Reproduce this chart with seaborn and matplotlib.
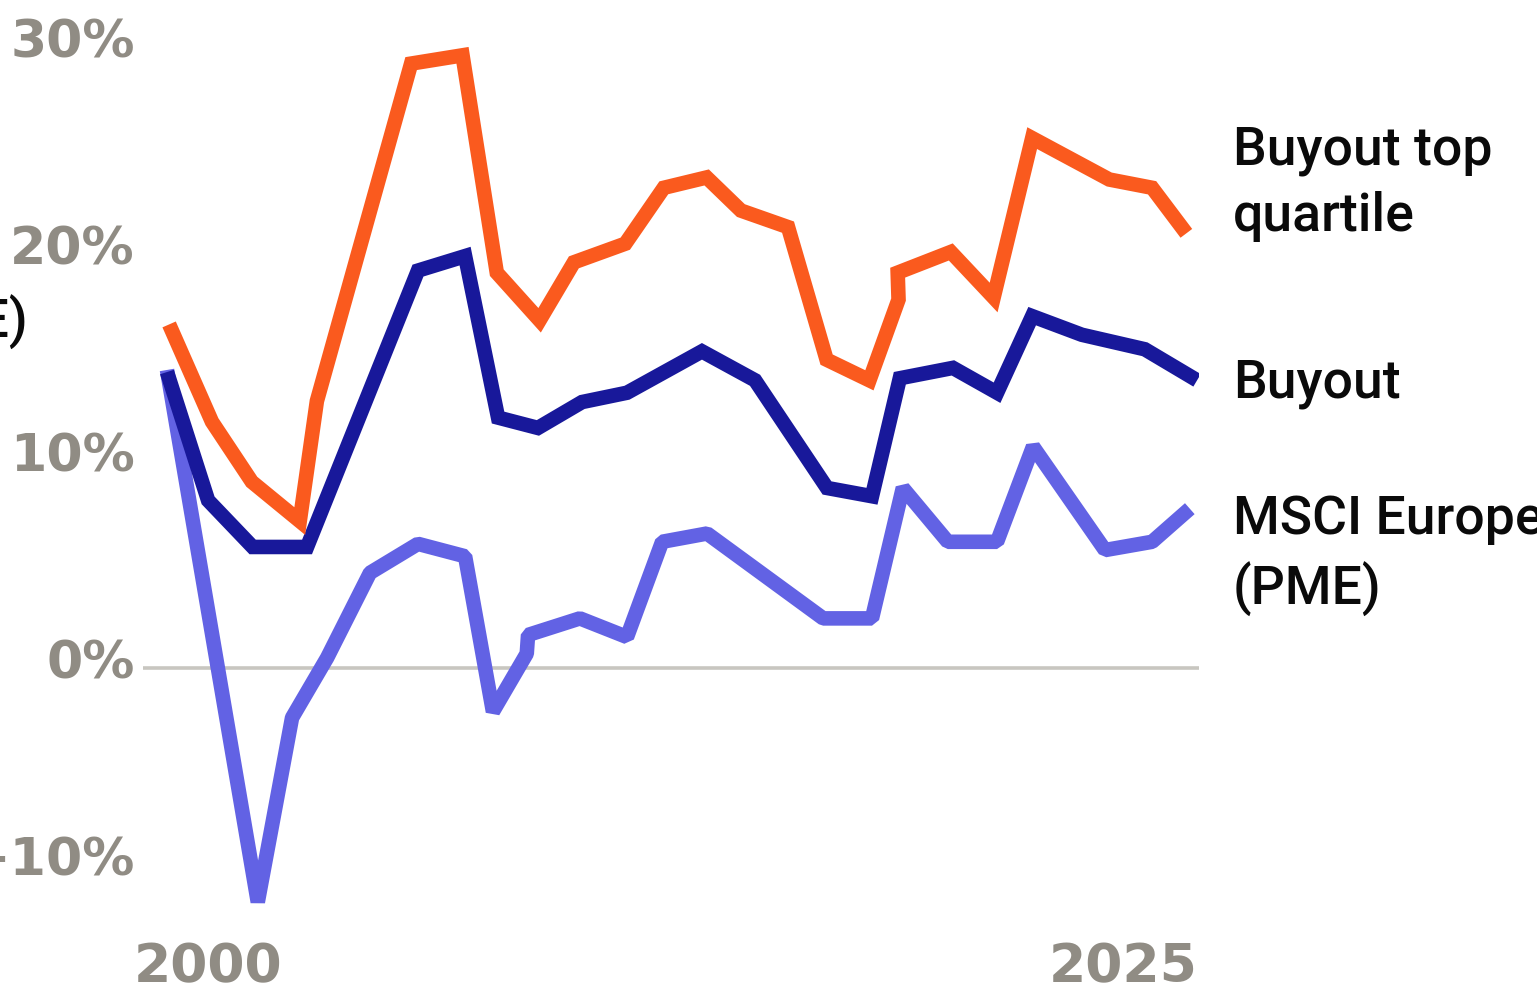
import numpy as np
import pandas as pd
import matplotlib
matplotlib.use("Agg")
import matplotlib.pyplot as plt
import matplotlib.transforms as mtransforms
import seaborn as sns

# ---------------- data ----------------
SERIES = ["MSCI Europe (PME)", "Buyout", "Buyout top quartile"]

top_years = [2000.05, 2001.05, 2001.98, 2003.1, 2003.5, 2005.7, 2006.9, 2007.7,
             2008.7, 2009.5, 2010.7, 2011.6, 2012.6, 2013.4, 2014.5, 2015.4,
             2016.4, 2017.08, 2017.06, 2018.3, 2019.3, 2020.2, 2022.0, 2023.0,
             2023.8]
top_values = [16.6, 11.9, 9.0, 7.1, 12.9, 29.2, 29.6, 19.1,
              16.8, 19.6, 20.5, 23.2, 23.7, 22.1, 21.3, 14.9,
              13.9, 17.8, 19.1, 20.1, 17.9, 25.6, 23.6, 23.2,
              21.0]

buyout_years = [2000.0, 2000.96, 2002.0, 2003.27, 2005.86, 2006.96, 2007.73,
                2008.66, 2009.69, 2010.74, 2012.49, 2013.73, 2015.41, 2016.46,
                2017.11, 2018.35, 2019.38, 2020.2, 2021.36, 2022.83, 2024.05]
buyout_values = [14.3, 8.1, 5.85, 5.85, 19.2, 19.9, 12.1,
                 11.6, 12.85, 13.3, 15.3, 13.9, 8.7, 8.3,
                 14.0, 14.5, 13.3, 17.0, 16.1, 15.4, 13.9]

pme_years = [2000.0, 2002.12, 2002.92, 2003.74, 2004.74, 2005.86, 2006.96,
             2007.61, 2008.4, 2008.43, 2009.64, 2010.74, 2011.56, 2012.61,
             2015.32, 2016.46, 2017.18, 2018.23, 2019.38, 2020.22, 2021.9,
             2023.0, 2023.88]
pme_values = [14.4, -11.3, -2.4, 0.5, 4.6, 6.0, 5.4,
              -2.1, 0.7, 1.6, 2.4, 1.5, 6.1, 6.5,
              2.4, 2.4, 8.7, 6.1, 6.1, 10.7, 5.7,
              6.1, 7.7]

YTICKS = [-10, 0, 10, 20, 30]
YTICK_LABELS = ["\u221210%", "0%", "10%", "20%", "30%"]
XTICK_POS = [2000.97, 2022.33]
XTICK_LABELS = ["2000", "2025"]

COLORS = {"MSCI Europe (PME)": "#6262E4",
          "Buyout": "#18189A",
          "Buyout top quartile": "#FA5A1E"}

frames = []
for name, xs, vs in [(SERIES[0], pme_years, pme_values),
                     (SERIES[1], buyout_years, buyout_values),
                     (SERIES[2], top_years, top_values)]:
    frames.append(pd.DataFrame({"year": xs, "irr": vs, "series": name}))
df = pd.concat(frames, ignore_index=True)

# ---------------- figure ----------------
sns.set_theme(style="white")
plt.rcParams["font.family"] = ["DejaVu Sans"]

W, H = 1537, 993
fig = plt.figure(figsize=(W / 100, H / 100), dpi=100)
fig.patch.set_facecolor("white")
ax = fig.add_axes([143 / W, (H - 920) / H, (1199 - 143) / W, (920 - 5) / H])
ax.set_facecolor("white")

ax.axhline(0, color="#C8C6C0", lw=2.6, zorder=1)

sns.lineplot(data=df, x="year", y="irr", hue="series", hue_order=SERIES,
             palette=COLORS, estimator=None, sort=False, linewidth=10.5,
             legend=False, ax=ax, zorder=2,
             solid_joinstyle="miter", solid_capstyle="butt")
# the PME line has flattened (bevelled) tips at its sharp dips
for ln in ax.lines:
    if matplotlib.colors.to_hex(ln.get_color()).lower() == COLORS[SERIES[0]].lower():
        ln.set_solid_joinstyle("bevel")

ax.set_xlim(1999.44, 2024.095)
ax.set_ylim(-12.17, 32.03)
ax.set_xlabel("")
ax.set_ylabel("")
sns.despine(ax=ax, left=True, bottom=True)
ax.grid(False)

tick_gray = "#908C84"
ax.set_yticks(YTICKS, YTICK_LABELS)
ax.set_xticks(XTICK_POS, XTICK_LABELS)
ax.tick_params(axis="y", length=0, pad=5.8, labelsize=37.5, labelcolor=tick_gray)
ax.tick_params(axis="x", length=0, pad=15, labelsize=38.5, labelcolor=tick_gray)
for lbl in ax.get_yticklabels() + ax.get_xticklabels():
    lbl.set_fontweight("bold")

for lbl, tv in zip(ax.get_yticklabels(), YTICKS):
    dy = 0.19 if tv < 0 else 0.09
    lbl.set_transform(lbl.get_transform() +
                      mtransforms.ScaledTranslation(0, dy, fig.dpi_scale_trans))

# ---------------- series labels ----------------
# va="baseline" anchors the baseline of the LAST line of multi-line text
lab = dict(fontsize=38.5, family=["Roboto", "Liberation Sans", "DejaVu Sans"],
           fontweight="medium", color="#0A0A0A",
           va="baseline", ha="left", linespacing=1.39)
fig.text(1233 / W, 1 - 231.5 / H, "Buyout top\nquartile", **lab)
fig.text(1233 / W, 1 - 397.5 / H, "Buyout", **lab)
fig.text(1233 / W, 1 - 605 / H, "MSCI Europe\n(PME)", **lab)
lab_left = dict(lab)
lab_left["ha"] = "right"
fig.text(28 / W, 1 - 338 / H, "(PME)", **lab_left)

fig.savefig("out.png", dpi=100, facecolor="white")
